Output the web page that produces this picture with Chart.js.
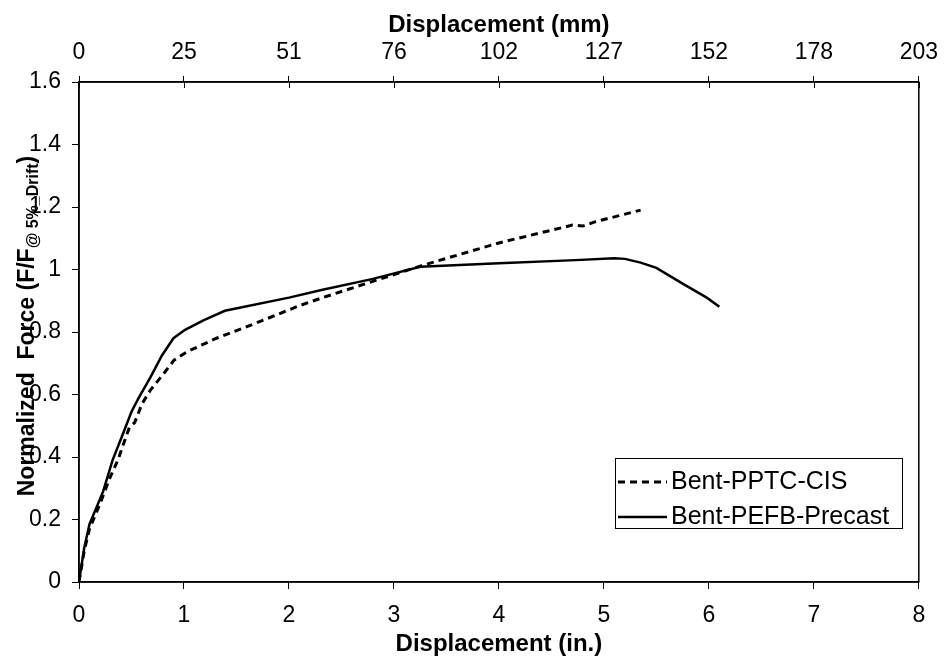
<!DOCTYPE html>
<html>
<head>
<meta charset="utf-8">
<script src="https://cdn.jsdelivr.net/npm/chart.js@4.4.1/dist/chart.umd.min.js"></script>
<style>
  html, body { margin: 0; padding: 0; background: #fff; }
  #wrap { width: 948px; height: 661px; }
</style>
</head>
<body>
<div id="wrap"><canvas id="forceChart"></canvas></div>
<script>
// values (displacement in inches, normalized force)
const cisX = [0, 0.05, 0.10, 0.20, 0.29, 0.37, 0.48, 0.53, 0.60, 0.68, 0.81, 0.905, 1.03, 1.31, 1.60, 2.09, 2.32, 3.25, 4.00, 4.70, 4.80, 4.92, 5.35];
const cisY = [0, 0.10, 0.17, 0.25, 0.33, 0.39, 0.495, 0.51, 0.57, 0.614, 0.668, 0.71, 0.737, 0.78, 0.817, 0.883, 0.91, 1.011, 1.085, 1.142, 1.139, 1.153, 1.19];

const precastX = [0, 0.05, 0.10, 0.23, 0.32, 0.42, 0.50, 0.57, 0.68, 0.79, 0.90, 1.01, 1.19, 1.39, 2.00, 2.32, 2.80, 3.25, 4.00, 4.73, 5.10, 5.20, 5.35, 5.50, 5.75, 5.98, 6.10];
const precastY = [0, 0.11, 0.185, 0.29, 0.39, 0.475, 0.545, 0.59, 0.655, 0.725, 0.78, 0.807, 0.838, 0.868, 0.91, 0.935, 0.97, 1.009, 1.02, 1.03, 1.036, 1.034, 1.022, 1.005, 0.955, 0.91, 0.881];

const mmTickLabels = ["0", "25", "51", "76", "102", "127", "152", "178", "203"];
const seriesNames = ["Bent-PPTC-CIS", "Bent-PEFB-Precast"];

const FONT = "Liberation Sans, Arial, sans-serif";

function toPoints(xs, ys) {
  return xs.map((x, i) => ({ x: x, y: ys[i] }));
}

// frame round the plot + small inner ticks on the top axis
const framePlugin = {
  id: "frame",
  afterDraw(chart) {
    const { ctx, chartArea: a } = chart;
    ctx.save();
    ctx.strokeStyle = "#000";
    ctx.lineWidth = 1.5;
    ctx.strokeRect(a.left, a.top, a.right - a.left, a.bottom - a.top);
    const top = chart.scales.x2;
    ctx.lineWidth = 1;
    top.ticks.forEach((t) => {
      const px = Math.round(top.getPixelForValue(t.value)) + 0.5;
      ctx.beginPath();
      ctx.moveTo(px, a.top);
      ctx.lineTo(px, a.top + 6);
      ctx.stroke();
    });
    ctx.restore();
  }
};

// y title with subscript, drawn over the tick labels like the original
const yTitlePlugin = {
  id: "yTitle",
  afterDraw(chart) {
    const { ctx } = chart;
    const parts = [
      { text: "Normalized  Force (F/F", font: "bold 23px " + FONT, dy: 0 },
      { text: "@ 5%_Drift", font: "bold 16px " + FONT, dy: 4 },
      { text: ")", font: "bold 23px " + FONT, dy: 0 }
    ];
    ctx.save();
    let total = 0;
    parts.forEach((p) => {
      ctx.font = p.font;
      p.w = ctx.measureText(p.text).width;
      total += p.w;
    });
    ctx.translate(26, 326);
    ctx.rotate(-Math.PI / 2);
    ctx.fillStyle = "#000";
    ctx.textBaseline = "alphabetic";
    ctx.textAlign = "left";
    let x = -total / 2;
    parts.forEach((p) => {
      ctx.font = p.font;
      ctx.fillText(p.text, x, 8 + p.dy);
      x += p.w;
    });
    ctx.restore();
  }
};

// boxed legend inside the plot, lower right
const legendPlugin = {
  id: "boxLegend",
  afterDraw(chart) {
    const { ctx } = chart;
    const box = { x: 615, y: 458, w: 287, h: 70 };
    ctx.save();
    ctx.fillStyle = "#fff";
    ctx.fillRect(box.x, box.y, box.w, box.h);
    ctx.strokeStyle = "#000";
    ctx.lineWidth = 1;
    ctx.strokeRect(box.x + 0.5, box.y + 0.5, box.w, box.h);
    ctx.font = "25px " + FONT;
    ctx.textBaseline = "middle";
    ctx.fillStyle = "#000";
    chart.data.datasets.forEach((ds, i) => {
      const yy = box.y + 24 + i * 35;
      ctx.beginPath();
      ctx.setLineDash(ds.borderDash || []);
      ctx.lineWidth = ds.borderWidth;
      ctx.moveTo(box.x + 3, yy);
      ctx.lineTo(box.x + 52, yy);
      ctx.stroke();
      ctx.setLineDash([]);
      ctx.fillText(ds.label, box.x + 56, yy);
    });
    ctx.restore();
  }
};

new Chart(document.getElementById("forceChart"), {
  type: "line",
  data: {
    datasets: [
      {
        label: seriesNames[0],
        data: toPoints(cisX, cisY),
        borderColor: "#000",
        borderWidth: 3,
        borderDash: [7, 5],
        pointRadius: 0,
        tension: 0,
        fill: false
      },
      {
        label: seriesNames[1],
        data: toPoints(precastX, precastY),
        borderColor: "#000",
        borderWidth: 2.5,
        pointRadius: 0,
        tension: 0,
        fill: false
      }
    ]
  },
  options: {
    responsive: true,
    maintainAspectRatio: false,
    animation: false,
    layout: { padding: { left: 0, right: 22, top: 0, bottom: 0 } },
    plugins: {
      legend: { display: false },
      tooltip: { enabled: false }
    },
    scales: {
      x: {
        type: "linear",
        position: "bottom",
        min: 0,
        max: 8,
        ticks: { stepSize: 1, color: "#000", font: { family: FONT, size: 23 }, padding: 13 },
        grid: { drawOnChartArea: false, tickLength: 7, color: "#000" },
        border: { color: "#000", width: 1.5 },
        title: { display: true, text: "Displacement (in.)", color: "#000", font: { family: FONT, size: 24, weight: "bold" }, padding: { top: 0, bottom: 2 } },
        afterFit(scale) { scale.height = 79; }
      },
      x2: {
        type: "linear",
        position: "top",
        min: 0,
        max: 8,
        ticks: {
          stepSize: 1,
          color: "#000",
          font: { family: FONT, size: 23 },
          padding: 10,
          callback: (value, index) => mmTickLabels[index]
        },
        grid: { drawOnChartArea: false, tickLength: 6, color: "#000" },
        border: { color: "#000", width: 1.5 },
        title: { display: true, text: "Displacement (mm)", color: "#000", font: { family: FONT, size: 24, weight: "bold" }, padding: { top: 11, bottom: 0 } },
        afterFit(scale) { scale.height = 82; }
      },
      y: {
        type: "linear",
        min: 0,
        max: 1.6,
        ticks: {
          stepSize: 0.2,
          color: "#000",
          font: { family: FONT, size: 23 },
          padding: 11,
          callback: (value) => String(Number(value.toFixed(1)))
        },
        grid: { drawOnChartArea: false, tickLength: 7, color: "#000" },
        border: { color: "#000", width: 1.5 },
        afterFit(scale) { scale.width = 79; }
      }
    }
  },
  plugins: [framePlugin, yTitlePlugin, legendPlugin]
});
</script>
</body>
</html>
